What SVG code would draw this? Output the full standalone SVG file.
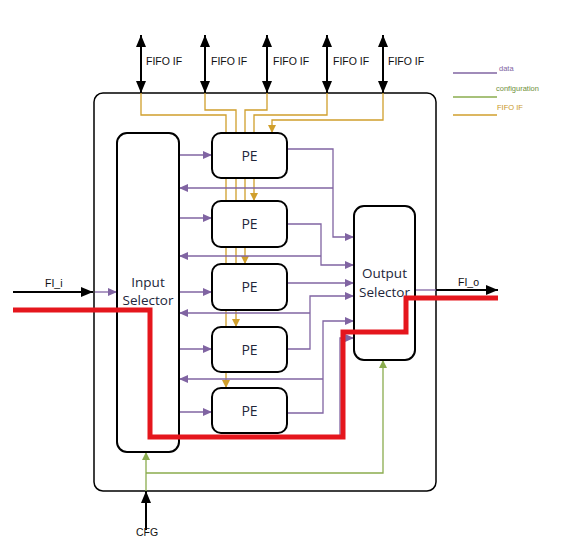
<svg xmlns="http://www.w3.org/2000/svg" width="567" height="555" viewBox="0 0 567 555">
<defs>
<style>
.box{fill:#fff;stroke:#000;stroke-width:2}
.outer{fill:#fff;stroke:#000;stroke-width:1.5}
.d{fill:none;stroke:#8064a2;stroke-width:1.3}
.f{fill:none;stroke:#d09f2c;stroke-width:1.3}
.c{fill:none;stroke:#8aac4e;stroke-width:1.3}
.k{fill:none;stroke:#000;stroke-width:2}
.red{fill:none;stroke:#e5161d;stroke-width:5;stroke-linejoin:miter}
.t{font-family:"Open Sans","Liberation Sans",Arial,sans-serif;fill:#22263a}
.lbl{font-family:"Liberation Sans",Arial,sans-serif;font-size:10.5px;fill:#111}
.leg{font-family:"Liberation Sans",Arial,sans-serif;font-size:7.5px}
</style>
<marker id="ad" markerUnits="userSpaceOnUse" markerWidth="9" markerHeight="8" refX="9" refY="4" orient="auto"><path d="M0,0 L9,4 L0,8 z" fill="#8064a2"/></marker>
<marker id="af" markerUnits="userSpaceOnUse" markerWidth="8" markerHeight="8" refX="8" refY="4" orient="auto"><path d="M0,0 L8,4 L0,8 z" fill="#d09f2c"/></marker>
<marker id="ac" markerUnits="userSpaceOnUse" markerWidth="8" markerHeight="8" refX="8" refY="4" orient="auto"><path d="M0,0 L8,4 L0,8 z" fill="#8aac4e"/></marker>
<marker id="ak" markerUnits="userSpaceOnUse" markerWidth="12" markerHeight="10" refX="12" refY="5" orient="auto-start-reverse"><path d="M0,0 L12,5 L0,10 z" fill="#000"/></marker>
</defs>
<rect width="567" height="555" fill="#fff"/>
<g id="outer-box"><rect class="outer" x="94" y="93" width="342" height="398" rx="9"/></g>
<g id="legend">
<line x1="453" y1="73" x2="497" y2="73" stroke="#8064a2" stroke-width="1.3"/>
<text class="leg" x="499" y="71" fill="#8064a2">data</text>
<line x1="453" y1="97" x2="497" y2="97" stroke="#8aac4e" stroke-width="1.3"/>
<text class="leg" x="496" y="91" fill="#6f8f3a">configuration</text>
<line x1="453" y1="115" x2="497" y2="115" stroke="#d09f2c" stroke-width="1.3"/>
<text class="leg" x="497" y="110" fill="#c9971f">FIFO IF</text>
</g>
<g id="connectors">
<line class="k" x1="141" y1="93" x2="141" y2="35" marker-start="url(#ak)" marker-end="url(#ak)"/>
<line class="k" x1="205" y1="93" x2="205" y2="35" marker-start="url(#ak)" marker-end="url(#ak)"/>
<line class="k" x1="267" y1="93" x2="267" y2="35" marker-start="url(#ak)" marker-end="url(#ak)"/>
<line class="k" x1="327" y1="93" x2="327" y2="35" marker-start="url(#ak)" marker-end="url(#ak)"/>
<line class="k" x1="383" y1="93" x2="383" y2="35" marker-start="url(#ak)" marker-end="url(#ak)"/>
<path class="f" d="M141,93 V115 H226 V388" marker-end="url(#af)"/>
<path class="f" d="M205,93 V110 H236 V327" marker-end="url(#af)"/>
<path class="f" d="M267,93 V110 H245 V264" marker-end="url(#af)"/>
<path class="f" d="M327,93 V115 H254 V201" marker-end="url(#af)"/>
<path class="f" d="M383,93 V120 H272 V133" marker-end="url(#af)"/>
<line class="k" x1="13" y1="292" x2="93" y2="292" marker-end="url(#ak)"/>
<line class="d" x1="95" y1="292" x2="117" y2="292" marker-end="url(#ad)"/>
<line class="d" x1="415" y1="290" x2="436" y2="290"/>
<line class="k" x1="436" y1="290" x2="498" y2="290" marker-end="url(#ak)"/>
<line class="d" x1="179" y1="155" x2="212" y2="155" marker-end="url(#ad)"/>
<line class="d" x1="179" y1="218" x2="212" y2="218" marker-end="url(#ad)"/>
<line class="d" x1="179" y1="292" x2="212" y2="292" marker-end="url(#ad)"/>
<line class="d" x1="179" y1="349" x2="212" y2="349" marker-end="url(#ad)"/>
<line class="d" x1="179" y1="412" x2="212" y2="412" marker-end="url(#ad)"/>
<path class="d" d="M287,149 H333 V237 H354" marker-end="url(#ad)"/>
<path class="d" d="M287,224 H321 V265 H354" marker-end="url(#ad)"/>
<path class="d" d="M287,283 H354" marker-end="url(#ad)"/>
<path class="d" d="M287,349 H310 V296 H354" marker-end="url(#ad)"/>
<path class="d" d="M287,413 H323 V321 H354" marker-end="url(#ad)"/>
<path class="d" d="M179,436 H340 V338 H354" marker-end="url(#ad)"/>
<path class="d" d="M333,188 H179" marker-end="url(#ad)"/>
<path class="d" d="M321,256 H179" marker-end="url(#ad)"/>
<path class="d" d="M310,313 H179" marker-end="url(#ad)"/>
<path class="d" d="M323,379 H179" marker-end="url(#ad)"/>
<line class="k" x1="146" y1="530" x2="146" y2="491" marker-end="url(#ak)"/>
<path class="c" d="M146,491 V452" marker-end="url(#ac)"/>
<path class="c" d="M146,473 H383 V360" marker-end="url(#ac)"/>
</g>
<g id="labels">
<text class="lbl" x="146" y="65">FIFO IF</text>
<text class="lbl" x="211" y="65">FIFO IF</text>
<text class="lbl" x="273" y="65">FIFO IF</text>
<text class="lbl" x="333" y="65">FIFO IF</text>
<text class="lbl" x="388" y="65">FIFO IF</text>
<text class="lbl" x="45" y="287">FI_i</text>
<text class="lbl" x="458" y="286">FI_o</text>
<text class="lbl" x="136" y="536" font-size="10px">CFG</text>
</g>
<g id="input-selector">
<rect class="box" x="117" y="133" width="62" height="319" rx="10"/>
<text class="t" x="148" y="287" font-size="13.5" text-anchor="middle">Input</text>
<text class="t" x="148" y="305" font-size="13.5" text-anchor="middle">Selector</text>
</g>
<g id="pe1"><rect class="box" x="212" y="133" width="75" height="45" rx="9"/><text class="t" x="249.5" y="161" font-size="14" text-anchor="middle">PE</text></g>
<g id="pe2"><rect class="box" x="212" y="201" width="75" height="46" rx="9"/><text class="t" x="249.5" y="229" font-size="14" text-anchor="middle">PE</text></g>
<g id="pe3"><rect class="box" x="212" y="264" width="75" height="46" rx="9"/><text class="t" x="249.5" y="292" font-size="14" text-anchor="middle">PE</text></g>
<g id="pe4"><rect class="box" x="212" y="327" width="75" height="45" rx="9"/><text class="t" x="249.5" y="355" font-size="14" text-anchor="middle">PE</text></g>
<g id="pe5"><rect class="box" x="212" y="388" width="75" height="45" rx="9"/><text class="t" x="249.5" y="416" font-size="14" text-anchor="middle">PE</text></g>
<g id="output-selector">
<rect class="box" x="354" y="206" width="61" height="154" rx="10"/>
<text class="t" x="384.5" y="278" font-size="13.5" text-anchor="middle">Output</text>
<text class="t" x="384.5" y="297" font-size="13.5" text-anchor="middle">Selector</text>
</g>
<g id="highlight-path">
<path class="red" d="M13,310 H150 V437 H343 V332 H406 V298 H498"/>
</g>
</svg>
